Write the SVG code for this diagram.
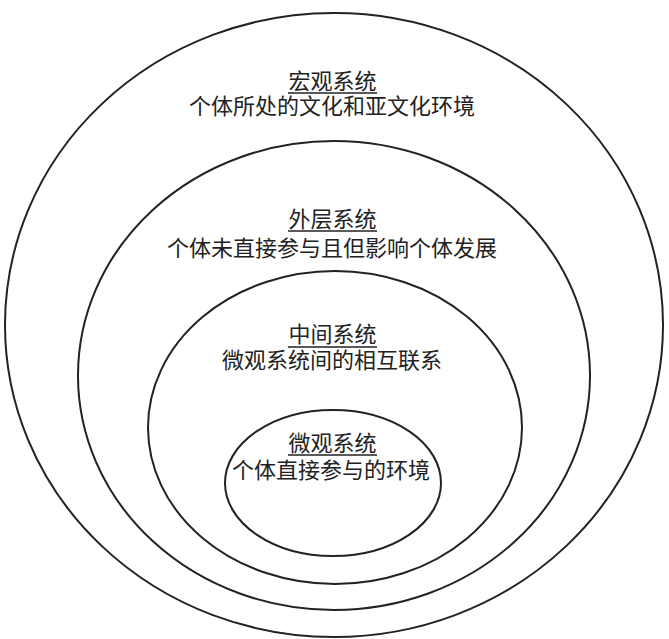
<svg xmlns="http://www.w3.org/2000/svg" width="669" height="639" viewBox="0 0 669 639">
<style>
.ring{fill:none;stroke:#222;stroke-width:2}
.t{font-family:"Noto Sans CJK SC","Noto Sans",sans-serif;font-size:22px;fill:#222;text-anchor:middle}
.ul{stroke:#222;stroke-width:1.6}
</style>
<rect width="669" height="639" fill="#fff"/>
<g id="macro">
<ellipse class="ring" cx="334" cy="325" rx="329" ry="312"/>
<text class="t" x="332.5" y="89">宏观系统</text>
<line class="ul" x1="288" y1="93" x2="377" y2="93"/>
<text class="t" x="332" y="114">个体所处的文化和亚文化环境</text>
</g>
<g id="exo">
<ellipse class="ring" cx="334" cy="375.5" rx="256" ry="234.5"/>
<text class="t" x="332.5" y="227">外层系统</text>
<line class="ul" x1="288" y1="231" x2="377" y2="231"/>
<text class="t" x="332" y="256">个体未直接参与且但影响个体发展</text>
</g>
<g id="meso">
<ellipse class="ring" cx="335" cy="427.5" rx="187" ry="156.5"/>
<text class="t" x="332.5" y="342">中间系统</text>
<line class="ul" x1="288" y1="347" x2="377" y2="347"/>
<text class="t" x="332" y="368">微观系统间的相互联系</text>
</g>
<g id="micro">
<ellipse class="ring" cx="333" cy="483" rx="108" ry="73"/>
<text class="t" x="332.5" y="451">微观系统</text>
<line class="ul" x1="288" y1="455" x2="377" y2="455"/>
<text class="t" x="331" y="478">个体直接参与的环境</text>
</g>
<g id="connectors"/>
</svg>
